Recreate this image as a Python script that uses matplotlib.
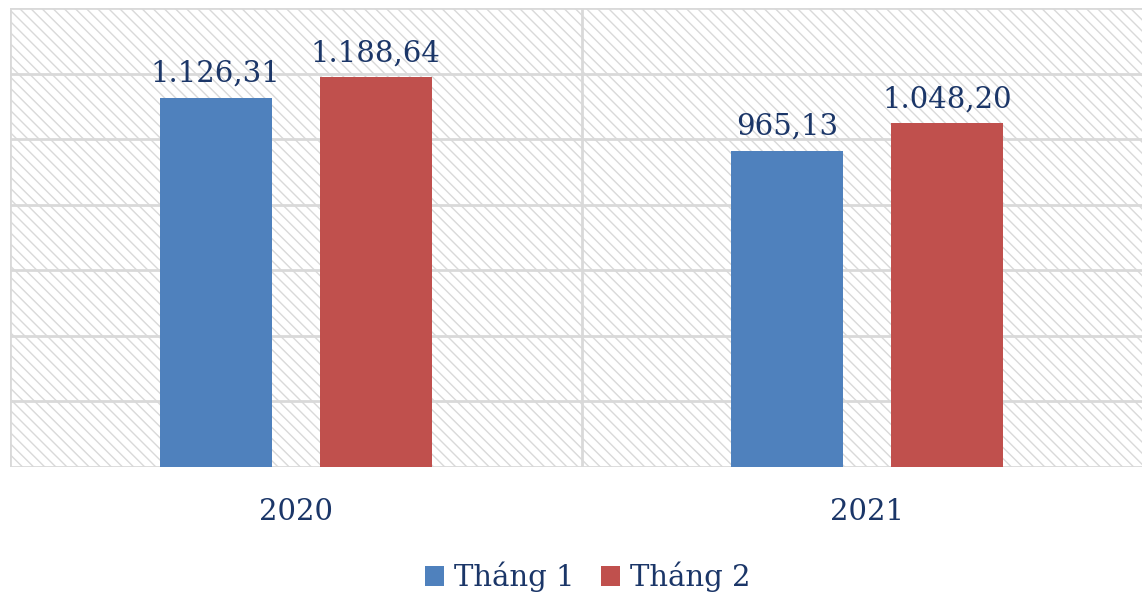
import matplotlib
matplotlib.use("Agg")
import matplotlib.pyplot as plt
from matplotlib.patches import Rectangle
import numpy as np

categories = ["2020", "2021"]
series_names = ["Tháng 1", "Tháng 2"]
thang1 = [1126.31, 965.13]
thang2 = [1188.64, 1048.20]
labels1 = ["1.126,31", "965,13"]
labels2 = ["1.188,64", "1.048,20"]

text_color = "#1B3668"
blue = "#4F81BD"
red = "#C0504D"
grid_c = "#D9D9D9"

plt.rcParams['font.family'] = ['DejaVu Serif']
plt.rcParams['hatch.linewidth'] = 1.0
plt.rcParams['hatch.color'] = '#D9D9D9'

fig = plt.figure(figsize=(11.42, 5.93), dpi=100)
W, H = 1142, 593
left_px, right_px, top_px, bot_px = 10, 1142, 8, 467
ax = fig.add_axes([left_px / W, 1 - bot_px / H, (right_px - left_px) / W, (bot_px - top_px) / H])

unit = 571.5
xmax = -0.5 + (right_px - left_px) / unit
ax.set_xlim(-0.5, xmax)
ax.set_ylim(0, 1400)

# hatched background
ax.add_patch(Rectangle((0, 0), 1, 1, transform=ax.transAxes, facecolor='white',
                       edgecolor='#D9D9D9', hatch='\\\\\\', linewidth=0, zorder=0))

# gridlines
for yv in np.arange(0, 1401, 200):
    ax.axhline(yv, color=grid_c, lw=2, zorder=1)
ax.axvline(-0.5, color=grid_c, lw=2, zorder=1)
ax.axvline(0.5, color=grid_c, lw=2, zorder=1)

x = np.arange(len(categories))
bw = 112 / unit
off = 80 / unit
b1 = ax.bar(x - off, thang1, bw, color=blue, zorder=2, label=series_names[0])
b2 = ax.bar(x + off, thang2, bw, color=red, zorder=2, label=series_names[1])

fs = 21
for xi, v, l in zip(x - off, thang1, labels1):
    ax.text(xi, v + 30, l, ha='center', va='bottom', fontsize=fs, color=text_color)
for xi, v, l in zip(x + off, thang2, labels2):
    ax.text(xi, v + 30, l, ha='center', va='bottom', fontsize=fs, color=text_color)

for s in ax.spines.values():
    s.set_visible(False)
ax.set_yticks([])
ax.set_xticks(x)
ax.set_xticklabels(categories, fontsize=fs, color=text_color)
ax.tick_params(axis='x', length=0, pad=22)

leg = fig.legend(handles=[b1, b2], labels=series_names, loc='center',
                 bbox_to_anchor=(588 / W, 1 - 577 / H), ncol=2, frameon=False,
                 fontsize=fs, handlelength=0.65, handleheight=0.65, handletextpad=0.35,
                 columnspacing=0.9)
for t in leg.get_texts():
    t.set_color(text_color)

fig.savefig("out.png", dpi=100)
